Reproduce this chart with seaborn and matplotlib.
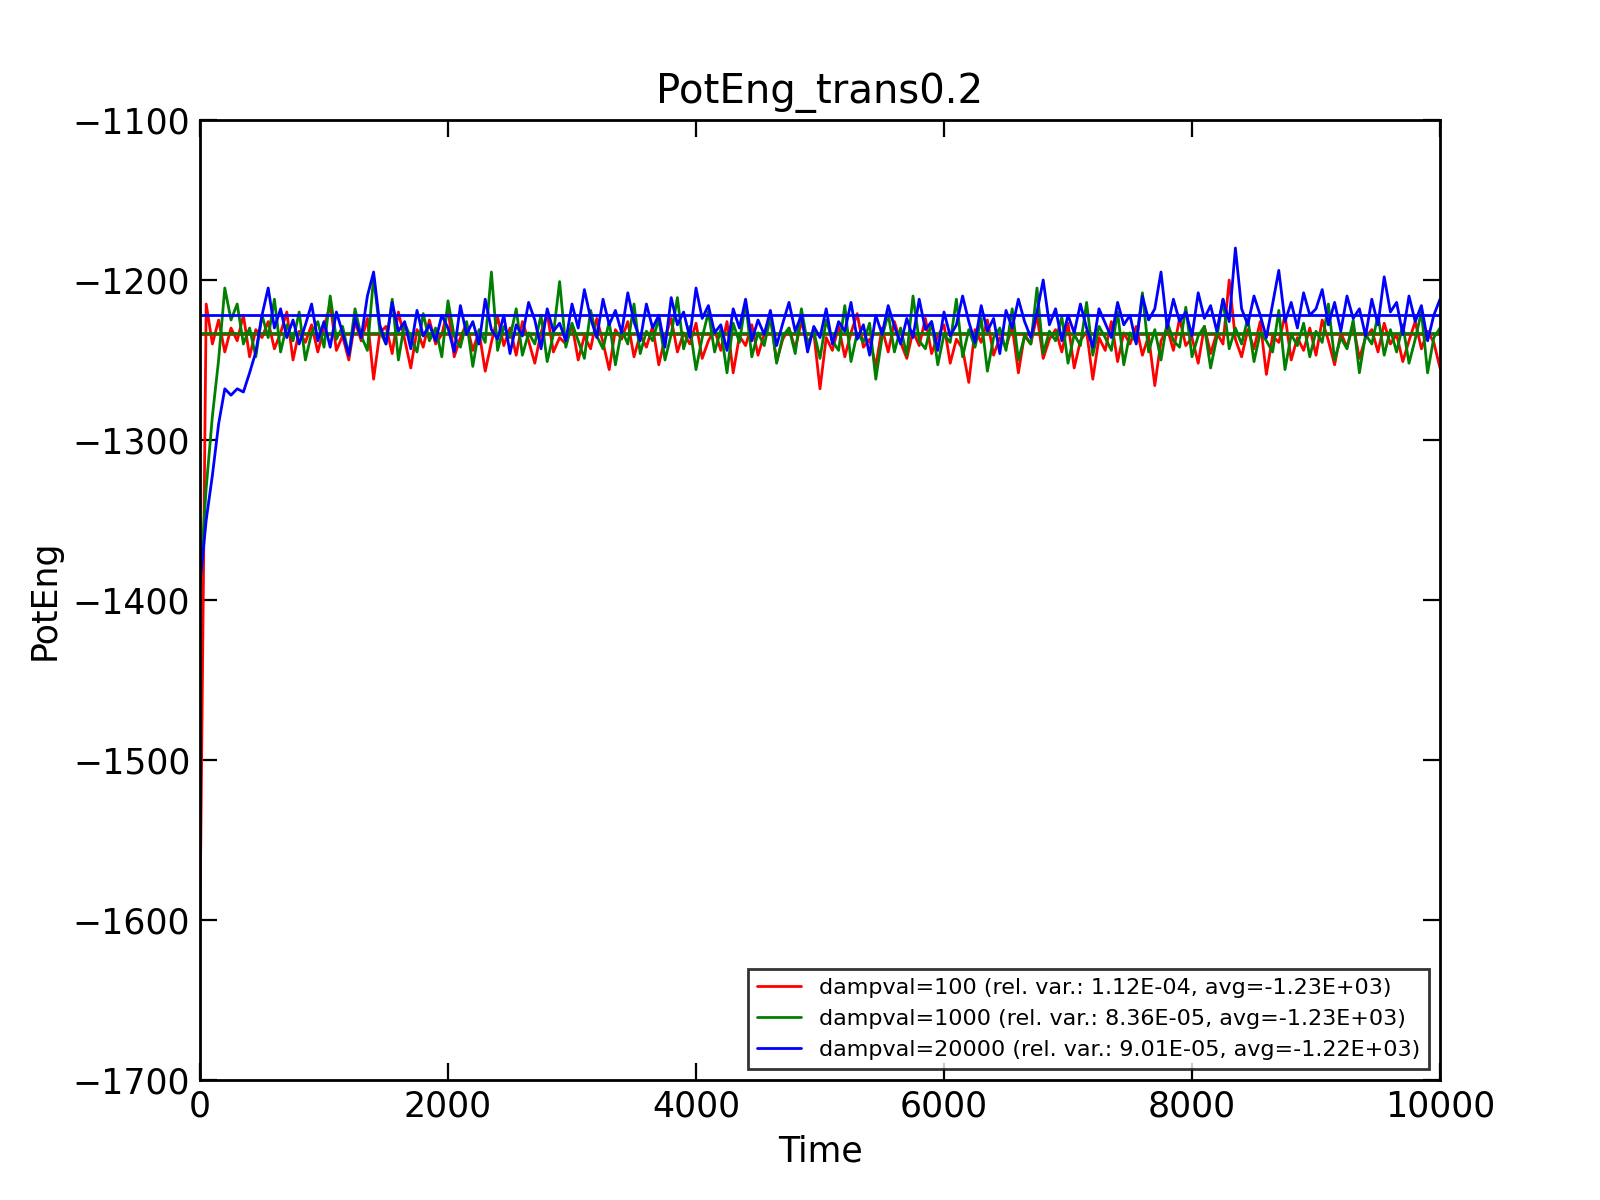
import matplotlib
matplotlib.use('Agg')
import matplotlib.pyplot as plt
import seaborn as sns
import numpy as np
import pandas as pd

time = list(range(0, 10001, 50))

red = [
-1600,-1215,-1240,-1225,-1245,-1230,-1238,-1222,-1248,-1231,-1236,-1226,-1243,-1233,-1220,-1250,-1232,-1239,-1228,-1245,
-1230,-1215,-1244,-1235,-1250,-1226,-1238,-1224,-1262,-1233,-1229,-1246,-1220,-1237,-1255,-1231,-1242,-1225,-1240,-1234,
-1218,-1248,-1236,-1227,-1244,-1232,-1257,-1239,-1223,-1241,-1230,-1247,-1226,-1238,-1252,-1233,-1221,-1245,-1236,-1240,
-1228,-1250,-1235,-1243,-1224,-1239,-1256,-1231,-1237,-1226,-1248,-1234,-1242,-1229,-1253,-1236,-1224,-1245,-1233,-1240,
-1227,-1249,-1238,-1231,-1244,-1226,-1258,-1235,-1241,-1228,-1247,-1234,-1222,-1251,-1237,-1230,-1243,-1226,-1239,-1233,
-1268,-1236,-1244,-1229,-1248,-1233,-1221,-1242,-1237,-1254,-1230,-1245,-1226,-1239,-1249,-1232,-1241,-1224,-1246,-1235,
-1228,-1252,-1237,-1243,-1264,-1231,-1239,-1225,-1247,-1236,-1242,-1229,-1258,-1234,-1240,-1222,-1249,-1237,-1231,-1245,
-1227,-1255,-1238,-1232,-1262,-1236,-1244,-1226,-1251,-1233,-1240,-1229,-1247,-1235,-1266,-1238,-1230,-1244,-1224,-1241,
-1236,-1252,-1229,-1246,-1233,-1240,-1200,-1237,-1248,-1231,-1243,-1226,-1259,-1235,-1239,-1222,-1250,-1236,-1244,-1230,
-1247,-1225,-1238,-1253,-1233,-1242,-1228,-1249,-1236,-1231,-1245,-1227,-1240,-1234,-1251,-1238,-1226,-1243,-1232,-1239,
-1255]

green = [
-1390,-1330,-1285,-1250,-1205,-1225,-1215,-1240,-1230,-1248,-1222,-1236,-1212,-1245,-1228,-1238,-1220,-1250,-1233,-1226,
-1242,-1210,-1237,-1229,-1247,-1218,-1235,-1244,-1198,-1232,-1240,-1212,-1250,-1227,-1236,-1245,-1221,-1238,-1230,-1248,
-1213,-1235,-1242,-1226,-1254,-1231,-1239,-1195,-1244,-1229,-1236,-1218,-1247,-1233,-1240,-1222,-1251,-1234,-1201,-1242,
-1227,-1238,-1249,-1219,-1235,-1243,-1226,-1253,-1231,-1240,-1215,-1246,-1232,-1238,-1224,-1250,-1234,-1211,-1243,-1229,
-1256,-1236,-1220,-1245,-1231,-1258,-1227,-1239,-1214,-1248,-1233,-1241,-1223,-1252,-1235,-1230,-1246,-1218,-1240,-1232,
-1249,-1225,-1238,-1244,-1216,-1251,-1233,-1239,-1227,-1262,-1236,-1221,-1245,-1230,-1247,-1210,-1238,-1243,-1226,-1253,
-1234,-1239,-1212,-1248,-1231,-1242,-1224,-1257,-1236,-1230,-1244,-1218,-1250,-1235,-1240,-1205,-1246,-1232,-1238,-1223,
-1252,-1234,-1241,-1214,-1247,-1229,-1236,-1244,-1220,-1253,-1233,-1239,-1208,-1245,-1231,-1250,-1226,-1238,-1242,-1217,
-1248,-1235,-1229,-1255,-1236,-1212,-1243,-1230,-1240,-1224,-1251,-1233,-1238,-1245,-1219,-1256,-1234,-1241,-1227,-1248,
-1232,-1239,-1215,-1250,-1236,-1243,-1225,-1258,-1234,-1240,-1222,-1247,-1231,-1245,-1228,-1252,-1237,-1220,-1258,-1236,
-1230]

blue = [
-1390,-1350,-1322,-1290,-1268,-1272,-1268,-1270,-1258,-1245,-1222,-1205,-1230,-1218,-1236,-1225,-1240,-1228,-1215,-1238,
-1226,-1242,-1220,-1233,-1247,-1224,-1236,-1210,-1195,-1228,-1240,-1214,-1232,-1226,-1243,-1219,-1235,-1228,-1238,-1222,
-1230,-1245,-1216,-1234,-1226,-1240,-1212,-1231,-1237,-1222,-1246,-1228,-1235,-1214,-1225,-1243,-1218,-1232,-1227,-1238,
-1215,-1230,-1206,-1224,-1236,-1212,-1228,-1219,-1233,-1208,-1226,-1238,-1215,-1230,-1222,-1242,-1211,-1228,-1220,-1236,
-1205,-1224,-1216,-1233,-1228,-1244,-1218,-1230,-1212,-1238,-1225,-1234,-1219,-1241,-1227,-1214,-1232,-1222,-1245,-1229,
-1236,-1218,-1240,-1226,-1232,-1214,-1237,-1228,-1247,-1222,-1234,-1216,-1229,-1240,-1224,-1236,-1212,-1231,-1226,-1244,
-1220,-1235,-1228,-1210,-1226,-1239,-1216,-1232,-1224,-1246,-1219,-1230,-1212,-1226,-1236,-1220,-1200,-1228,-1218,-1238,
-1222,-1233,-1215,-1230,-1242,-1218,-1227,-1236,-1214,-1228,-1222,-1240,-1210,-1225,-1218,-1195,-1230,-1212,-1226,-1220,
-1235,-1208,-1224,-1216,-1232,-1212,-1226,-1180,-1218,-1228,-1210,-1222,-1236,-1215,-1194,-1226,-1214,-1230,-1208,-1222,
-1218,-1206,-1228,-1214,-1232,-1210,-1224,-1218,-1235,-1212,-1228,-1198,-1220,-1214,-1234,-1210,-1226,-1216,-1238,-1222,
-1212]

labels = ["dampval=100 (rel. var.: 1.12E-04, avg=-1.23E+03)",
          "dampval=1000 (rel. var.: 8.36E-05, avg=-1.23E+03)",
          "dampval=20000 (rel. var.: 9.01E-05, avg=-1.22E+03)"]
averages = [-1234, -1233, -1222]
colors = ["red", "green", "blue"]

sns.set_style("ticks")
plt.rcParams['font.family'] = ['DejaVu Sans']
plt.rcParams['text.color'] = 'black'
plt.rcParams['axes.labelcolor'] = 'black'
plt.rcParams['xtick.color'] = 'black'
plt.rcParams['ytick.color'] = 'black'

fig, ax = plt.subplots(figsize=(8, 6), dpi=200)
fig.subplots_adjust(left=0.125, right=0.9, bottom=0.1, top=0.9)

for vals, lab, avg, c in zip([red, green, blue], labels, averages, colors):
    df = pd.DataFrame({"Time": time, "PotEng": vals})
    sns.lineplot(data=df, x="Time", y="PotEng", color=c, lw=1.0, label=lab, ax=ax)
    ax.axhline(avg, color=c, lw=1.0)

ax.set_xlim(0, 10000)
ax.set_ylim(-1700, -1100)
ax.set_xticks(range(0, 10001, 2000))
ax.set_yticks(range(-1700, -1099, 100))
ax.tick_params(direction='in', top=True, right=True, labelsize=12.5, length=6)
for s in ax.spines.values():
    s.set_linewidth(1.0)
    s.set_color("black")
ax.set_title("PotEng_trans0.2", fontsize=14.5)
ax.set_xlabel("Time", fontsize=12.5)
ax.set_ylabel("PotEng", fontsize=12.5)
leg = ax.legend(loc="lower right", fontsize=8, frameon=True, fancybox=False)
leg.get_frame().set_edgecolor("black")
leg.get_frame().set_linewidth(1.0)
for t in leg.get_texts():
    t.set_color("black")

fig.savefig("out.png")
